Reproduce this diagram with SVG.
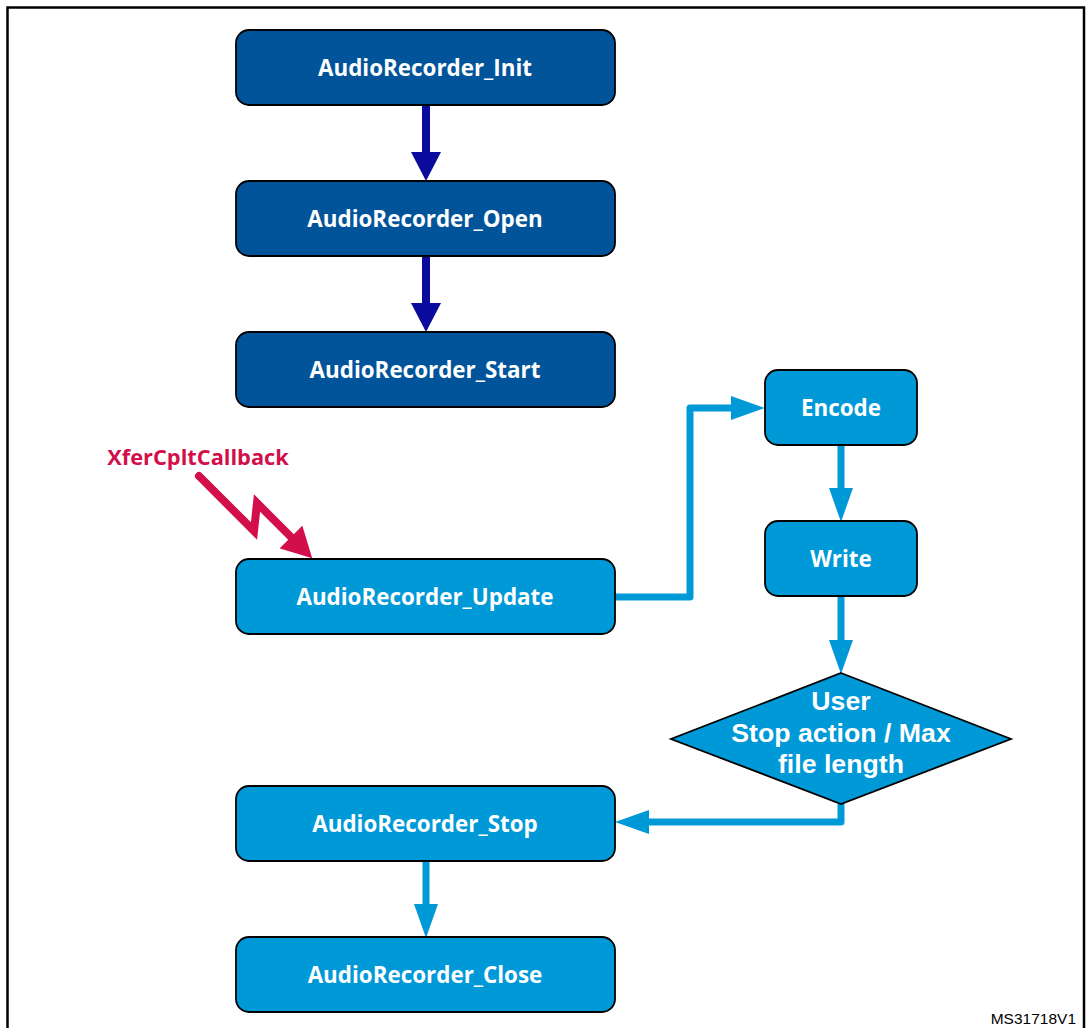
<svg xmlns="http://www.w3.org/2000/svg" width="1087" height="1028" viewBox="0 0 1087 1028">
  <style>
    .dark { fill: #02549a; stroke: #000; stroke-width: 1.8; }
    .light { fill: #0099d8; stroke: #000; stroke-width: 1.8; }
    .lbl { font-family: "Open Sans", "Liberation Sans", sans-serif; font-weight: bold; font-size: 22.4px; fill: #fff; text-anchor: middle; }
    .dlbl { font-family: "Liberation Sans", Arial, sans-serif; font-weight: bold; font-size: 26.7px; fill: #fff; text-anchor: middle; }
    .darrow { fill: none; stroke: #0a0a9c; stroke-width: 8; stroke-linecap: round; }
    .larrow { fill: none; stroke: #0099d8; stroke-width: 7; stroke-linejoin: round; }
    .bolt { fill: none; stroke: #d20f4a; stroke-width: 8; stroke-linecap: round; stroke-linejoin: miter; }
  </style>
  <defs>
    <marker id="headDark" markerUnits="userSpaceOnUse" viewBox="0 0 30 30" refX="0" refY="15" markerWidth="30" markerHeight="30" orient="auto">
      <path d="M0,0 L29,15 L0,30 Z" fill="#0a0a9c"/>
    </marker>
    <marker id="headLight" markerUnits="userSpaceOnUse" viewBox="0 0 34 24" refX="0" refY="12" markerWidth="34" markerHeight="24" orient="auto">
      <path d="M0,0 L34,12 L0,24 Z" fill="#0099d8"/>
    </marker>
    <marker id="headRed" markerUnits="userSpaceOnUse" viewBox="0 0 30 32" refX="0" refY="16" markerWidth="30" markerHeight="32" orient="auto">
      <path d="M0,0 L30,16 L0,32 Z" fill="#d20f4a"/>
    </marker>
  </defs>

  <rect width="1087" height="1028" fill="#fff"/>
  <!-- outer frame -->
  <rect x="7.5" y="7.5" width="1076.5" height="1040" fill="none" stroke="#000" stroke-width="2.5"/>

  <g id="connectors">
    <path class="darrow" d="M426,104 L426,152" marker-end="url(#headDark)"/>
    <path class="darrow" d="M426,255 L426,303" marker-end="url(#headDark)"/>
    <path class="larrow" d="M615,597 L690,597 L690,408 L731,408" marker-end="url(#headLight)"/>
    <path class="larrow" d="M841,445 L841,488" marker-end="url(#headLight)"/>
    <path class="larrow" d="M841,596 L841,640" marker-end="url(#headLight)"/>
    <path class="larrow" d="M841,804 L841,822 L649,822" marker-end="url(#headLight)"/>
    <path class="larrow" d="M426,861 L426,904" marker-end="url(#headLight)"/>
  </g>

  <g id="callback">
    <text x="198" y="465" font-family="'Open Sans', 'Liberation Sans', sans-serif" font-weight="bold" font-size="21.8" fill="#d20f4a" text-anchor="middle">XferCpltCallback</text>
    <path class="bolt" d="M199,476 L254,531 L257,503 L291,537" marker-end="url(#headRed)"/>
  </g>

  <g id="init">
    <rect class="dark" x="236" y="30" width="379" height="75" rx="13"/>
    <text class="lbl" x="425" y="76">AudioRecorder_Init</text>
  </g>
  <g id="open">
    <rect class="dark" x="236" y="181" width="379" height="75" rx="13"/>
    <text class="lbl" x="425" y="227">AudioRecorder_Open</text>
  </g>
  <g id="start">
    <rect class="dark" x="236" y="332" width="379" height="75" rx="13"/>
    <text class="lbl" x="425" y="378">AudioRecorder_Start</text>
  </g>
  <g id="update">
    <rect class="light" x="236" y="559" width="379" height="75" rx="13"/>
    <text class="lbl" x="425" y="605">AudioRecorder_Update</text>
  </g>
  <g id="stop">
    <rect class="light" x="236" y="786" width="379" height="75" rx="13"/>
    <text class="lbl" x="425" y="832">AudioRecorder_Stop</text>
  </g>
  <g id="close">
    <rect class="light" x="236" y="937" width="379" height="75" rx="13"/>
    <text class="lbl" x="425" y="983">AudioRecorder_Close</text>
  </g>
  <g id="encode">
    <rect class="light" x="765" y="370" width="152" height="75" rx="13"/>
    <text class="lbl" x="841" y="416">Encode</text>
  </g>
  <g id="write">
    <rect class="light" x="765" y="521" width="152" height="75" rx="13"/>
    <text class="lbl" x="841" y="567">Write</text>
  </g>
  <g id="decision">
    <polygon class="light" points="841,673 1011,739 841,804 671,739"/>
    <text class="dlbl" x="841" y="710">User</text>
    <text class="dlbl" x="841" y="742">Stop action / Max</text>
    <text class="dlbl" x="841" y="773">file length</text>
  </g>

  <text x="1076" y="1024" font-family="'Liberation Sans', Arial, sans-serif" font-size="15.5" fill="#000" text-anchor="end">MS31718V1</text>
</svg>
